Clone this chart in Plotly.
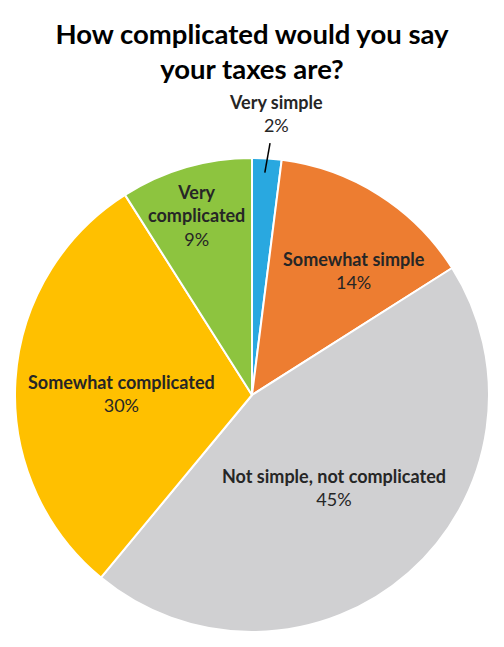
import numpy as np
import plotly.graph_objects as go

labels = ['Very simple', 'Somewhat simple', 'Not simple, not complicated',
          'Somewhat complicated', 'Very complicated']
label_lines = ['Very simple', 'Somewhat simple', 'Not simple, not complicated',
               'Somewhat complicated', 'Very<br>complicated']
values = [2, 14, 45, 30, 9]
colors = ['#29A8E0', '#ED7D31', '#D0D0D2', '#FFC000', '#8DC43F']

# page has an 8px body margin, so the figure is a bit smaller than the window
OFF = 8
FW, FH = 504 - 2 * OFF, 647 - 2 * OFF
cx, cy, R = 252, 395, 237  # pie centre / radius in window pixels

# label placement: radial fraction and angle tweak (deg) per slice
label_r = [1.194, 0.68, 0.52, 0.549, 0.795]
label_dtheta = [1.3, 7, 0, -3, -1]


def to_paper(px, py):
    return (px - OFF) / FW, 1 - (py - OFF) / FH


def polar(frac, deg):
    a = np.radians(deg)
    return to_paper(cx + frac * R * np.sin(a), cy - frac * R * np.cos(a))


dx0, dy0 = to_paper(cx - R, cy + R)
dx1, dy1 = to_paper(cx + R, cy - R)

fig = go.Figure()
fig.add_trace(go.Pie(
    labels=labels,
    values=values,
    sort=False,
    direction='clockwise',
    rotation=0,
    marker=dict(colors=colors, line=dict(color='white', width=2)),
    textinfo='none',
    hoverinfo='label+percent',
    showlegend=False,
    domain=dict(x=[dx0, dx1], y=[dy0, dy1]),
))

total = sum(values)
cum = np.cumsum([0] + values)
for i, v in enumerate(values):
    mid = (cum[i] + v / 2) / total * 360
    x, y = polar(label_r[i], mid + label_dtheta[i])
    pct = f'{round(v / total * 100)}%'
    fig.add_annotation(
        x=x, y=y, xref='paper', yref='paper',
        xanchor='center', yanchor='middle',
        text=f'<b>{label_lines[i]}</b><br>{pct}',
        showarrow=False,
        font=dict(family='Lato', size=18, color='#262626'),
        align='center',
    )
    if i == 0:
        x0, y0 = polar(0.94, mid - 0.3)
        x1, y1 = polar(1.065, mid + 0.5)
        fig.add_shape(type='line', xref='paper', yref='paper',
                      x0=x0, y0=y0, x1=x1, y1=y1,
                      line=dict(color='black', width=1.5))

fig.update_layout(
    title=dict(text='<b>How complicated would you say<br>your taxes are?</b>',
               x=0.5, xanchor='center', y=to_paper(0, 43.5)[1], yanchor='middle',
               font=dict(family='Lato', size=27.5, color='black')),
    width=FW,
    height=FH,
    margin=dict(l=0, r=0, t=0, b=0),
    paper_bgcolor='white',
    plot_bgcolor='white',
)

fig.write_html('out.html')
